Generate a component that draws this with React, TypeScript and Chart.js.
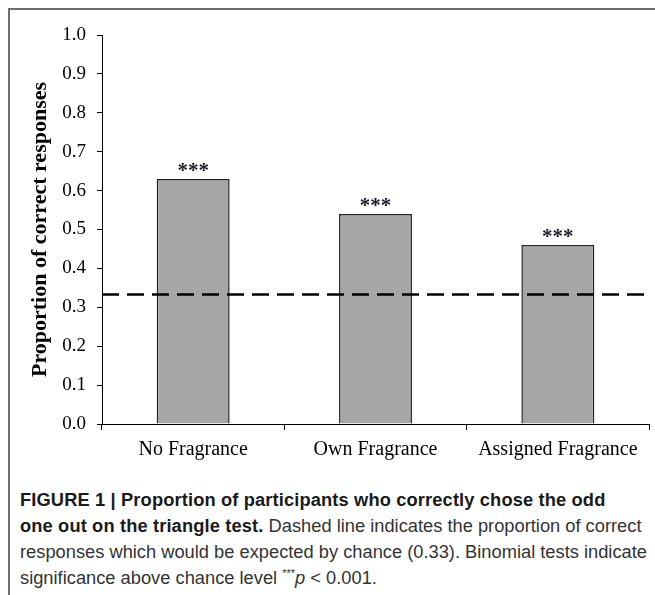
import React, { useEffect, useRef } from "react";
import { Chart, registerables } from "chart.js";

Chart.register(...registerables);

const categories = ["No Fragrance", "Own Fragrance", "Assigned Fragrance"];
const proportions = [0.63, 0.54, 0.46];
const significance = ["***", "***", "***"];
const chanceLevel = 0.333;
const yTickValues = [0, 0.1, 0.2, 0.3, 0.4, 0.5, 0.6, 0.7, 0.8, 0.9, 1.0];
const yTitle = "Proportion of correct responses";

const SERIF = '"Liberation Serif", "Times New Roman", serif';
const SANS = '"Liberation Sans", Arial, Helvetica, sans-serif';

const chanceLinePlugin = {
  id: "chanceLine",
  afterDatasetsDraw(chart: any) {
    const { ctx, chartArea, scales } = chart;
    const y = scales.y.getPixelForValue(chanceLevel);
    ctx.save();
    ctx.strokeStyle = "#000";
    ctx.lineWidth = 2.5;
    ctx.setLineDash([17, 8]);
    ctx.beginPath();
    ctx.moveTo(chartArea.left, y);
    ctx.lineTo(chartArea.right, y);
    ctx.stroke();
    ctx.restore();
  },
};

const starsPlugin = {
  id: "stars",
  afterDatasetsDraw(chart: any) {
    const { ctx } = chart;
    const meta = chart.getDatasetMeta(0);
    ctx.save();
    ctx.fillStyle = "#1b1b2a";
    ctx.font = `bold 21px ${SERIF}`;
    ctx.textAlign = "center";
    ctx.textBaseline = "alphabetic";
    meta.data.forEach((bar: any, i: number) => {
      ctx.fillText(significance[i], bar.x, bar.y - 2);
    });
    ctx.restore();
  },
};

export default function App() {
  const canvasRef = useRef<HTMLCanvasElement | null>(null);

  useEffect(() => {
    document.body.style.margin = "0";
    const canvas = canvasRef.current;
    if (!canvas) return;
    const chart = new Chart(canvas, {
      type: "bar",
      data: {
        labels: categories,
        datasets: [
          {
            data: proportions,
            backgroundColor: "#a6a6a6",
            borderColor: "#222222",
            borderWidth: 1.5,
            barPercentage: 0.4,
            categoryPercentage: 1,
          },
        ],
      },
      options: {
        animation: false,
        responsive: false,
        maintainAspectRatio: false,
        layout: { padding: { top: 35, right: 6, left: 0, bottom: 0 } },
        plugins: {
          legend: { display: false },
          tooltip: { enabled: false },
        },
        scales: {
          x: {
            grid: {
              offset: true,
              drawOnChartArea: false,
              drawTicks: true,
              tickLength: 6,
              color: "#000",
              lineWidth: 1,
            },
            border: { display: true, color: "#000", width: 1 },
            ticks: {
              color: "#000",
              font: { family: SERIF, size: 20 },
              padding: 8,
              maxRotation: 0,
              autoSkip: false,
            },
            afterFit: (s: any) => {
              s.height = 56;
            },
          },
          y: {
            min: 0,
            max: 1,
            grid: {
              drawOnChartArea: false,
              drawTicks: true,
              tickLength: 5,
              color: "#000",
              lineWidth: 1,
            },
            border: { display: true, color: "#000", width: 1 },
            afterBuildTicks: (s: any) => {
              s.ticks = yTickValues.map((v) => ({ value: v }));
            },
            ticks: {
              color: "#000",
              font: { family: SERIF, size: 19 },
              padding: 11,
              callback: (v: any) => Number(v).toFixed(1),
            },
            title: {
              display: true,
              text: yTitle,
              color: "#000",
              font: { family: SERIF, size: 22, weight: "bold" },
              padding: { top: 27, bottom: 0 },
            },
            afterFit: (s: any) => {
              s.width = 102;
            },
          },
        },
      },
      plugins: [chanceLinePlugin, starsPlugin],
    });
    return () => chart.destroy();
  }, []);

  const lineStyle: React.CSSProperties = {
    position: "absolute",
    left: 20,
    whiteSpace: "nowrap",
    fontFamily: SANS,
    fontSize: 18.3,
    lineHeight: "26px",
    color: "#333",
  };
  const boldStyle: React.CSSProperties = {
    fontWeight: "bold",
    color: "#1a1a1a",
    letterSpacing: "0.13px",
  };

  return (
    <div style={{ position: "relative", width: 655, height: 595, overflow: "hidden", background: "#fff" }}>
      <div
        style={{
          position: "absolute",
          left: 8,
          top: 8,
          width: 700,
          height: 700,
          borderLeft: "2px solid #6e6e6e",
          borderTop: "2px solid #6e6e6e",
        }}
      />
      <canvas
        ref={canvasRef}
        width={655}
        height={480}
        style={{ position: "absolute", left: 0, top: 0, width: 655, height: 480 }}
      />
      <div style={{ ...lineStyle, top: 487 }}>
        <span style={boldStyle}>FIGURE 1 | Proportion of participants who correctly chose the odd</span>
      </div>
      <div style={{ ...lineStyle, top: 513 }}>
        <span style={boldStyle}>one out on the triangle test.</span> Dashed line indicates the proportion of correct
      </div>
      <div style={{ ...lineStyle, top: 539 }}>
        responses which would be expected by chance (0.33). Binomial tests indicate
      </div>
      <div style={{ ...lineStyle, top: 565 }}>
        significance above chance level <sup style={{ fontSize: 11, lineHeight: 0 }}>***</sup>
        <i>p</i> &lt; 0.001.
      </div>
    </div>
  );
}
